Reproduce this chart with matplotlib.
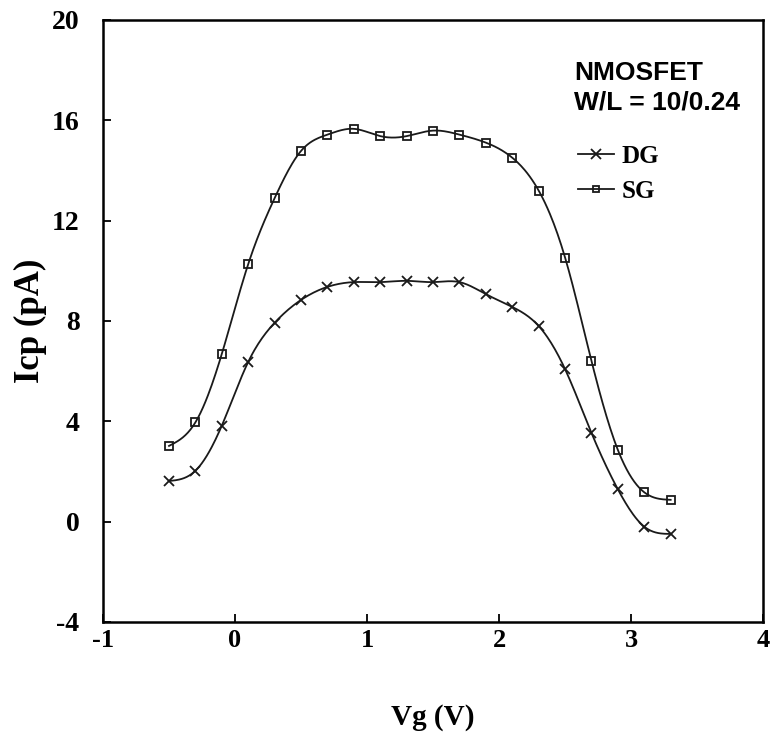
import numpy as np
import matplotlib
matplotlib.use("Agg")
import matplotlib.pyplot as plt
from matplotlib.lines import Line2D

vg = [-0.5, -0.3, -0.1, 0.1, 0.3, 0.5, 0.7, 0.9, 1.1, 1.3, 1.5, 1.7, 1.9, 2.1, 2.3, 2.5, 2.7, 2.9, 3.1, 3.3]
icp_dg = [1.62, 2.03, 3.83, 6.37, 7.93, 8.84, 9.36, 9.55, 9.55, 9.60, 9.55, 9.55, 9.07, 8.56, 7.80, 6.08, 3.54, 1.29, -0.20, -0.49]
icp_sg = [3.02, 3.96, 6.69, 10.27, 12.90, 14.78, 15.43, 15.66, 15.37, 15.37, 15.59, 15.43, 15.11, 14.51, 13.20, 10.53, 6.41, 2.86, 1.17, 0.87]
x_ticks = [-1, 0, 1, 2, 3, 4]
y_ticks = [-4, 0, 4, 8, 12, 16, 20]


def natural_spline(x, y, n=400):
    x = np.asarray(x, float)
    y = np.asarray(y, float)
    m = len(x)
    h = np.diff(x)
    A = np.zeros((m, m))
    b = np.zeros(m)
    A[0, 0] = A[-1, -1] = 1
    for i in range(1, m - 1):
        A[i, i - 1] = h[i - 1]
        A[i, i] = 2 * (h[i - 1] + h[i])
        A[i, i + 1] = h[i]
        b[i] = 3 * ((y[i + 1] - y[i]) / h[i] - (y[i] - y[i - 1]) / h[i - 1])
    c = np.linalg.solve(A, b)
    xs = np.linspace(x[0], x[-1], n)
    idx = np.clip(np.searchsorted(x, xs) - 1, 0, m - 2)
    dx = xs - x[idx]
    bb = (y[idx + 1] - y[idx]) / h[idx] - h[idx] * (2 * c[idx] + c[idx + 1]) / 3
    d = (c[idx + 1] - c[idx]) / (3 * h[idx])
    ys = y[idx] + bb * dx + c[idx] * dx ** 2 + d * dx ** 3
    return xs, ys


serif = ["Liberation Serif", "DejaVu Serif"]
sans = ["Liberation Sans", "DejaVu Sans"]
ink = "#1a1a1a"

fig = plt.figure(figsize=(7.7, 7.32), dpi=100)
ax = fig.add_axes([0.1338, 0.1503, 0.8572, 0.8224])

for yv, mk, ms in [(icp_dg, "x", 7, ), (icp_sg, "s", 5.5)]:
    xs, ys = natural_spline(vg, yv)
    ax.plot(xs, ys, color=ink, lw=1.3)
    ax.plot(vg, yv, linestyle="none", marker=mk, ms=ms, mfc="none", mec=ink, mew=1.3)

handles = [Line2D([], [], color=ink, lw=1.3, marker="x", ms=7, mew=1.3, mfc="none"),
           Line2D([], [], color=ink, lw=1.3, marker="s", ms=4.5, mew=1.3, mfc="none")]
ax.legend(handles, ["DG", "SG"], loc="upper left", bbox_to_anchor=(0.693, 0.822),
          frameon=False, handlelength=1.45, handletextpad=0.3, labelspacing=0.5,
          borderpad=0.2, prop={"family": serif, "weight": "bold", "size": 18})

ax.text(0.7135, 0.912, "NMOSFET", transform=ax.transAxes, family=sans, weight="bold",
        fontsize=19, va="center", ha="left")
ax.text(0.7135, 0.863, "W/L = 10/0.24", transform=ax.transAxes, family=sans, weight="bold",
        fontsize=19, va="center", ha="left")

ax.set_xlim(-1, 4)
ax.set_ylim(-4, 20)
ax.set_xticks(x_ticks)
ax.set_yticks(y_ticks)
ax.set_xticklabels([str(t) for t in x_ticks], family=serif, weight="bold", fontsize=19)
ax.set_yticklabels([str(t) for t in y_ticks], family=serif, weight="bold", fontsize=20)
ax.tick_params(direction="in", length=6, width=1.3, top=False, right=False)
ax.tick_params(axis="x", pad=5)
ax.tick_params(axis="y", pad=17)
for s in ax.spines.values():
    s.set_linewidth(1.8)

ax.set_xlabel("Vg (V)", family=serif, weight="bold", fontsize=21, va="center")
ax.set_ylabel("Icp (pA)", family=serif, weight="bold", fontsize=25, va="center")
ax.xaxis.set_label_coords(0.5, -0.159)
ax.yaxis.set_label_coords(-0.11, 0.5)

fig.savefig("out.png", dpi=100)
